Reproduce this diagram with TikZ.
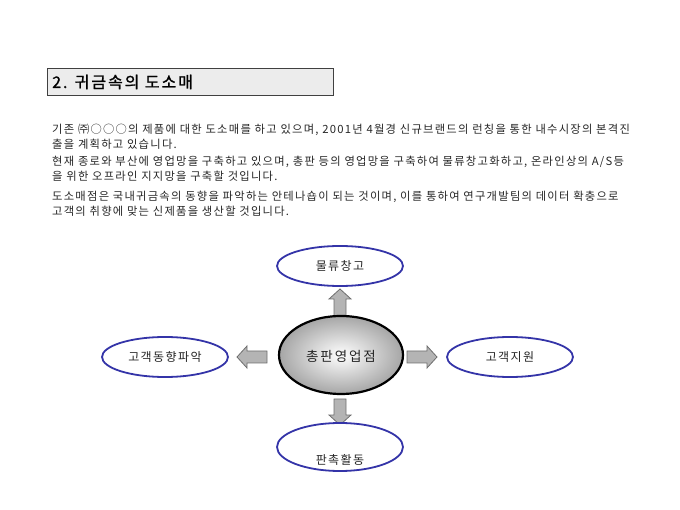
\documentclass[tikz,border=0pt]{standalone}
\usepackage{fontspec}
\setmainfont{Noto Sans CJK KR}
\newfontfamily\bodyfont[LetterSpace=11]{Noto Sans CJK KR}
\newfontfamily\ovfont[LetterSpace=12]{Noto Sans CJK KR}
\newfontfamily\ctrfont[LetterSpace=14]{Noto Sans CJK KR}
\newfontfamily\titlefont[LetterSpace=12,FakeBold=1.2]{Noto Sans CJK KR}
\usetikzlibrary{shapes.geometric}
\definecolor{ovblue}{HTML}{3434A8}
\definecolor{arrfill}{HTML}{B4B4B4}
\definecolor{arrdraw}{HTML}{6E6E6E}
\definecolor{titlefill}{HTML}{ECECEC}
\tikzset{
  body/.style={anchor=west,inner sep=0pt,font=\bodyfont\fontsize{11.3}{12}\selectfont,text=black!85},
  oval/.style={ellipse,draw=ovblue,line width=1.8pt,fill=white,minimum width=126pt,minimum height=40pt,inner sep=0pt},
  ovtext/.style={font=\ovfont\fontsize{12}{14}\selectfont,text=black!85},
  barrow/.style={draw=arrdraw,fill=arrfill,line width=0.8pt,line join=miter}
}
\begin{document}
\begin{tikzpicture}[x=1pt,y=-1pt]
\useasboundingbox (0,0) rectangle (680,510);
% title
\node[draw=black!75,fill=titlefill,line width=1.2pt,minimum width=286pt,minimum height=27pt,anchor=north west,inner sep=0pt] (titlebox) at (47,68) {};
\node[anchor=west,inner sep=0pt,font=\titlefont\fontsize{16}{18}\selectfont] (title) at (52,82) {2. 귀금속의 도소매};
% body text
\node[body] (p1a) at (52,130) {기존 ㈜○○○의 제품에 대한 도소매를 하고 있으며, 2001년 4월경 신규브랜드의 런칭을 통한 내수시장의 본격진};
\node[body] (p1b) at (52,144) {출을 계획하고 있습니다.};
\node[body] (p2a) at (52,162) {현재 종로와 부산에 영업망을 구축하고 있으며, 총판 등의 영업망을 구축하여 물류창고화하고, 온라인상의 A/S등};
\node[body] (p2b) at (52,176) {을 위한 오프라인 지지망을 구축할 것입니다.};
\node[body] (p3a) at (52,197) {도소매점은 국내귀금속의 동향을 파악하는 안테나숍이 되는 것이며, 이를 통하여 연구개발팀의 데이터 확충으로};
\node[body] (p3b) at (52,211) {고객의 취향에 맞는 신제품을 생산할 것입니다.};
% block arrows (behind the ovals)
\draw[barrow] (334,316) -- (334,299) -- (329,299) -- (340,289) -- (351,299) -- (346,299) -- (346,316) -- cycle;
\draw[barrow] (334,399) -- (334,415) -- (329,415) -- (340,425) -- (351,415) -- (346,415) -- (346,399) -- cycle;
\draw[barrow] (267,351) -- (247,351) -- (247,346) -- (237,357) -- (247,368) -- (247,363) -- (267,363) -- cycle;
\draw[barrow] (407,351) -- (427,351) -- (427,346) -- (437,357) -- (427,368) -- (427,363) -- (407,363) -- cycle;
% diagram
\node[ellipse,draw=black,line width=2.2pt,inner color=white,outer color=black!35,minimum width=124pt,minimum height=78pt,inner sep=0pt] (center) at (341,355) {};
\node[font=\ctrfont\fontsize{13.5}{15}\selectfont,text=black!85] (centert) at (341,356) {총판영업점};
\node[oval] (top) at (340,266) {};
\node[ovtext] at (top) {물류창고};
\node[oval] (left) at (165,357) {};
\node[ovtext] at (left) {고객동향파악};
\node[oval] (right) at (510,357) {};
\node[ovtext] at (right) {고객지원};
\node[oval,minimum height=48pt] (bottom) at (340,447) {};
\node[ovtext] at (340,460) {판촉활동};
\end{tikzpicture}
\end{document}
